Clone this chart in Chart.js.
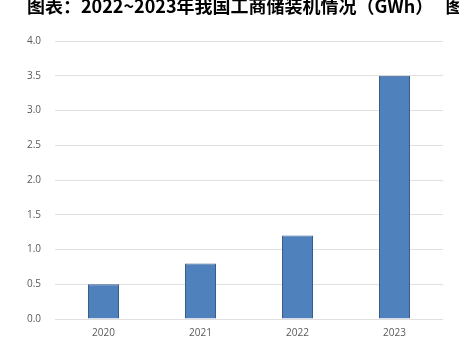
<!DOCTYPE html>
<html>
<head>
<meta charset="utf-8">
<script src="https://cdn.jsdelivr.net/npm/chart.js@4"></script>
<style>
html,body{margin:0;padding:0;background:#fff;overflow:hidden;width:459px;height:341px;}
#wrap{position:relative;width:459px;height:341px;overflow:hidden;}
#title{position:absolute;left:27px;top:-4px;font-family:"Noto Sans CJK SC","Noto Sans",sans-serif;font-weight:bold;font-size:18px;line-height:18px;color:#000;white-space:pre;}
#title span{margin-left:4px;}
canvas{position:absolute;left:0;top:0;}
</style>
</head>
<body>
<div id="wrap">
<canvas id="c" width="459" height="341"></canvas>
<div id="title">图表：2022~2023年我国工商储装机情况（GWh）  <span>图表</span></div>
</div>
<script>
const categories = ["2020", "2021", "2022", "2023"];
const values = [0.5, 0.8, 1.2, 3.5];
const yTicks = [0, 0.5, 1.0, 1.5, 2.0, 2.5, 3.0, 3.5, 4.0];

new Chart(document.getElementById('c'), {
  type: 'bar',
  data: {
    labels: categories,
    datasets: [{
      data: values,
      backgroundColor: '#4F81BD',
      borderColor: '#385D8A',
      borderWidth: 1,
      barPercentage: 0.32,
      categoryPercentage: 1
    }]
  },
  options: {
    responsive: false,
    devicePixelRatio: 1,
    animation: false,
    layout: { padding: { top: 41, right: 16, bottom: 0, left: 0 } },
    plugins: { legend: { display: false }, title: { display: false }, tooltip: { enabled: false } },
    scales: {
      x: {
        grid: { display: false, drawTicks: false },
        border: { display: false },
        ticks: { color: '#595959', font: { family: 'Open Sans', size: 10 }, padding: 8, maxRotation: 0 },
        afterFit: s => { s.height = 22; }
      },
      y: {
        min: 0, max: 4,
        afterBuildTicks: s => { s.ticks = yTicks.map(v => ({ value: v })); },
        grid: { color: '#e0e0e0', lineWidth: 1, drawTicks: false },
        border: { display: false },
        ticks: { color: '#595959', font: { family: 'Open Sans', size: 10 }, padding: 14, callback: v => Number(v).toFixed(1) },
        afterFit: s => { s.width = 55; }
      }
    }
  }
});
</script>
</body>
</html>
